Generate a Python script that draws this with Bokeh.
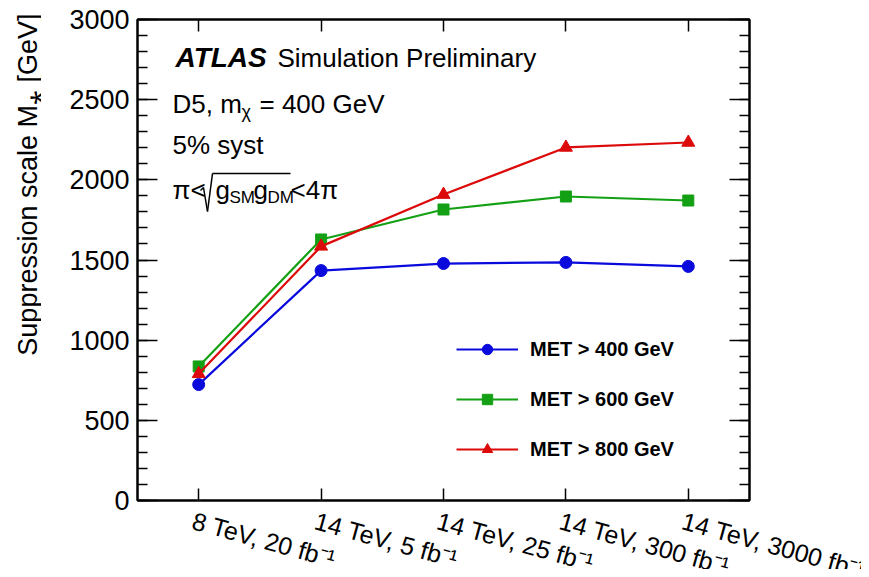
import math
from bokeh.plotting import figure
from bokeh.layouts import column, row
from bokeh.models import (FactorRange, Range1d, LinearAxis, CategoricalAxis, SingleIntervalTicker,
                          Label, ColumnDataSource, Legend, LegendItem, Arrow)
from bokeh.core.properties import value
from bokeh.embed import file_html
from bokeh.resources import INLINE

# ---------------- data ----------------
categories = ["8 TeV, 20 fb\u207b\u00b9", "14 TeV, 5 fb\u207b\u00b9", "14 TeV, 25 fb\u207b\u00b9",
              "14 TeV, 300 fb\u207b\u00b9", "14 TeV, 3000 fb\u207b\u00b9"]
met400 = [723, 1434, 1478, 1485, 1460]
met600 = [836, 1628, 1815, 1896, 1871]
met800 = [790, 1585, 1908, 2202, 2233]
series_labels = ["MET > 400 GeV", "MET > 600 GeV", "MET > 800 GeV"]
y_title = "Suppression scale M\u204e [GeV]"
y_min, y_max, y_major = 0, 3000, 500

FONT = "Liberation Sans"
W, H = 861, 569
LW = 41                                  # width of the strip holding the y title
FL, FT, FW, FH = 137 - LW, 19, 612, 481  # frame left/top/width/height inside the main figure
MW = W - LW
P1H = FT + FH + 11

def no_align(fig):
    if "frame_align" in fig.properties():
        fig.frame_align = False

p = figure(x_range=FactorRange(factors=categories, range_padding=0),
           y_range=Range1d(y_min, y_max),
           width=MW, height=P1H, output_backend="svg", toolbar_location=None,
           min_border_left=FL, min_border_right=MW - FL - FW, min_border_top=FT,
           min_border_bottom=P1H - FT - FH)
no_align(p)
p.xgrid.visible = False
p.ygrid.visible = False
p.outline_line_color = "black"
p.outline_line_width = 2
p.background_fill_color = "white"
p.border_fill_color = "white"

def style_x(ax):
    ax.major_label_overrides = {c: "" for c in categories}
    ax.major_label_text_font_size = "1px"
    ax.major_label_standoff = 0
    ax.major_tick_in = 12
    ax.major_tick_out = 0
    ax.major_tick_line_width = 1.5
    ax.major_tick_line_color = "black"
    ax.axis_line_width = 2
    ax.axis_line_color = "black"

def style_y(ax, labels=True):
    ax.ticker = SingleIntervalTicker(interval=y_major, num_minor_ticks=5)
    ax.major_tick_in = 20
    ax.major_tick_out = 0
    ax.minor_tick_in = 10
    ax.minor_tick_out = 0
    ax.major_tick_line_width = 1.5
    ax.minor_tick_line_width = 1.5
    ax.major_tick_line_color = "black"
    ax.minor_tick_line_color = "black"
    ax.axis_line_width = 2
    ax.axis_line_color = "black"
    if labels:
        ax.major_label_text_font = FONT
        ax.major_label_text_font_size = "27px"
        ax.major_label_text_color = "black"
        ax.major_label_standoff = 8
    else:
        ax.major_label_overrides = {v: "" for v in range(y_min, y_max + 1, y_major)}
        ax.major_label_text_font_size = "1px"
        ax.major_label_standoff = 0

style_x(p.xaxis[0])
style_y(p.yaxis[0])

top_axis = CategoricalAxis()
style_x(top_axis)
p.add_layout(top_axis, "above")
right_axis = LinearAxis()
style_y(right_axis, labels=False)
p.add_layout(right_axis, "right")

# series
colors = ["#0a0adc", "#14a014", "#dc0a0a"]
markers = ["circle", "square", "triangle"]
sizes = [12, 11, 13]
items = []
for vals, col, mk, sz, lab in zip([met400, met600, met800], colors, markers, sizes, series_labels):
    src = ColumnDataSource(dict(x=categories, y=vals))
    rl = p.line("x", "y", source=src, line_color=col, line_width=2.2)
    rs = p.scatter("x", "y", source=src, marker=mk, size=sz, fill_color=col, line_color=col)
    items.append(LegendItem(label=lab, renderers=[rl, rs]))

legend = Legend(items=items, location=(319, 38), padding=0, margin=0,
                glyph_width=62, glyph_height=26, label_height=26, spacing=24,
                label_standoff=12, label_text_font=FONT, label_text_font_size="20px",
                label_text_font_style="bold", label_text_color="black",
                border_line_color=None, background_fill_alpha=0)
p.add_layout(legend)

# text annotations (screen units relative to frame bottom-left)
def lab(text, x, y, size, style="normal", **kw):
    p.add_layout(Label(x=x, y=y, x_units="screen", y_units="screen", text=text,
                       text_font=FONT, text_font_size=size, text_font_style=style,
                       text_color="black", text_baseline="alphabetic", **kw))

lab("ATLAS", 38, 443, "28px", "bold italic")
lab("Simulation Preliminary", 140, 443, "26px")
lab("D5, m", 35, 397, "26px")
lab("\u03c7", 104, 389, "18px")
lab("= 400 GeV", 122, 397, "26px")
lab("5% syst", 35, 356, "26px")
lab("\u03c0<", 35, 311, "26px")
lab("g", 78, 311, "26px")
lab("SM", 92, 303, "17px")
lab("g", 116, 311, "26px")
lab("DM", 130, 303, "17px")
lab("<4\u03c0", 153, 311, "26px")
rad = [(63, 310), (66, 313), (70, 289), (75, 327), (153, 327)]
for (xa, ya), (xb, yb) in zip(rad[:-1], rad[1:]):
    p.add_layout(Arrow(end=None, x_start=xa, y_start=ya, x_end=xb, y_end=yb,
                       start_units="screen", end_units="screen",
                       line_color="black", line_width=1.5))

# x tick labels in a strip below the frame, aligned with the category centres
step = FW / len(categories)
p2 = figure(width=MW, height=H - P1H, output_backend="svg", toolbar_location=None,
            x_range=Range1d(-FL / step, (MW - FL) / step), y_range=Range1d(0, 1),
            x_axis_location=None, y_axis_location=None, min_border=0)
no_align(p2)
p2.grid.visible = False
p2.outline_line_color = None
p2.background_fill_color = "white"
p2.border_fill_color = "white"
p2.text(x=[i + 0.5 for i in range(len(categories))], y=[1] * len(categories), text=categories,
        angle=-0.27, text_align="left", text_baseline="top", x_offset=-2, y_offset=-5,
        text_font=value(FONT), text_font_size="25px", text_color="black")

# y-axis title in a strip at the left (pixel-based ranges)
p0 = figure(width=LW, height=H, output_backend="svg", toolbar_location=None,
            x_range=Range1d(0, LW), y_range=Range1d(H, 0),
            x_axis_location=None, y_axis_location=None, min_border=0)
no_align(p0)
p0.grid.visible = False
p0.outline_line_color = None
p0.background_fill_color = "white"
p0.border_fill_color = "white"
p0.text(x=[27], y=[13], text=[y_title], angle=math.pi / 2, text_align="right",
        text_baseline="alphabetic", text_font=value(FONT), text_font_size="27px",
        text_color="black")

layout = row(p0, column(p, p2, spacing=0), spacing=0)
open("out.html", "w").write(file_html(layout, INLINE))
